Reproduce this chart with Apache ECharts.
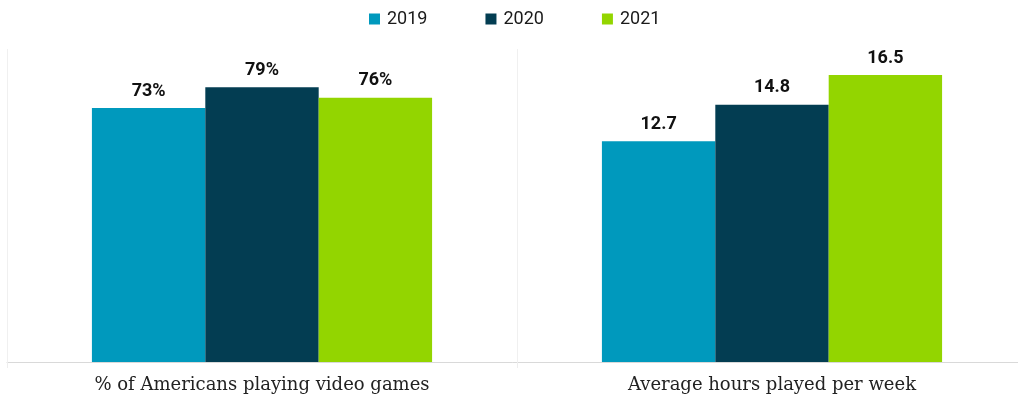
<!DOCTYPE html>
<html>
<head>
<meta charset="utf-8">
<script src="https://cdn.jsdelivr.net/npm/echarts@6/dist/echarts.min.js"></script>
<style>
  html, body { margin: 0; padding: 0; background: #ffffff; }
  #chart { width: 1018px; height: 396px; }
</style>
</head>
<body>
<div id="chart"></div>
<script>
// Survey measures, one bar per year in each group
const categories = ['% of Americans playing video games', 'Average hours played per week'];
const years = ['2019', '2020', '2021'];
const sharePlaying = [73, 79, 76];      // percent of Americans
const weeklyHours = [12.7, 14.8, 16.5];  // hours per week
const yearColors = ['#0099BD', '#033D52', '#93D500'];

const chart = echarts.init(document.getElementById('chart'), null, { renderer: 'canvas' });

// Both groups sit on the same plot area; each has its own value scale.
// The plot runs slightly past the right edge of the page.
const plotArea = { left: 7, top: 49, width: 1020, height: 313, outerBoundsMode: 'none', containLabel: false };

const labelStyle = {
  show: true,
  position: 'top',
  distance: 8,
  color: '#111111',
  fontFamily: 'Roboto',
  fontWeight: 'bold',
  fontSize: 18
};

const series = [];
years.forEach(function (year, i) {
  series.push({
    name: year,
    type: 'bar',
    xAxisIndex: 0,
    yAxisIndex: 0,
    data: [sharePlaying[i], '-'],
    itemStyle: { color: yearColors[i] },
    barGap: '0%',
    barCategoryGap: '33.3%',
    label: Object.assign({}, labelStyle, { formatter: '{c}%' })
  });
});
years.forEach(function (year, i) {
  series.push({
    name: year,
    type: 'bar',
    xAxisIndex: 1,
    yAxisIndex: 1,
    data: ['-', weeklyHours[i]],
    itemStyle: { color: yearColors[i] },
    barGap: '0%',
    barCategoryGap: '33.3%',
    label: Object.assign({}, labelStyle, { formatter: '{c}' })
  });
});

chart.setOption({
  animation: false,
  backgroundColor: '#ffffff',
  legend: {
    data: years,
    top: 5,
    left: 364,
    icon: 'rect',
    itemWidth: 11,
    itemHeight: 11,
    itemGap: 58,
    textStyle: { fontFamily: 'Roboto', fontSize: 18, color: '#1a1a1a', padding: [0, 0, 0, 2] }
  },
  grid: [
    Object.assign({}, plotArea),
    Object.assign({}, plotArea)
  ],
  xAxis: [
    {
      type: 'category',
      gridIndex: 0,
      data: categories,
      axisLine: { show: true, lineStyle: { color: '#d9d9d9', width: 1 } },
      axisTick: { show: true, length: 6, lineStyle: { color: '#eeeeee' } },
      splitLine: { show: true, lineStyle: { color: '#f0f0f0', width: 1 } },
      axisLabel: {
        margin: 14,
        color: '#222222',
        fontFamily: 'DejaVu Serif',
        fontSize: 18
      }
    },
    {
      type: 'category',
      gridIndex: 1,
      data: categories,
      show: false
    }
  ],
  yAxis: [
    { type: 'value', gridIndex: 0, min: 0, max: 90, show: false, splitLine: { show: false } },
    { type: 'value', gridIndex: 1, min: 0, max: 18, show: false, splitLine: { show: false } }
  ],
  series: series
});
</script>
</body>
</html>
